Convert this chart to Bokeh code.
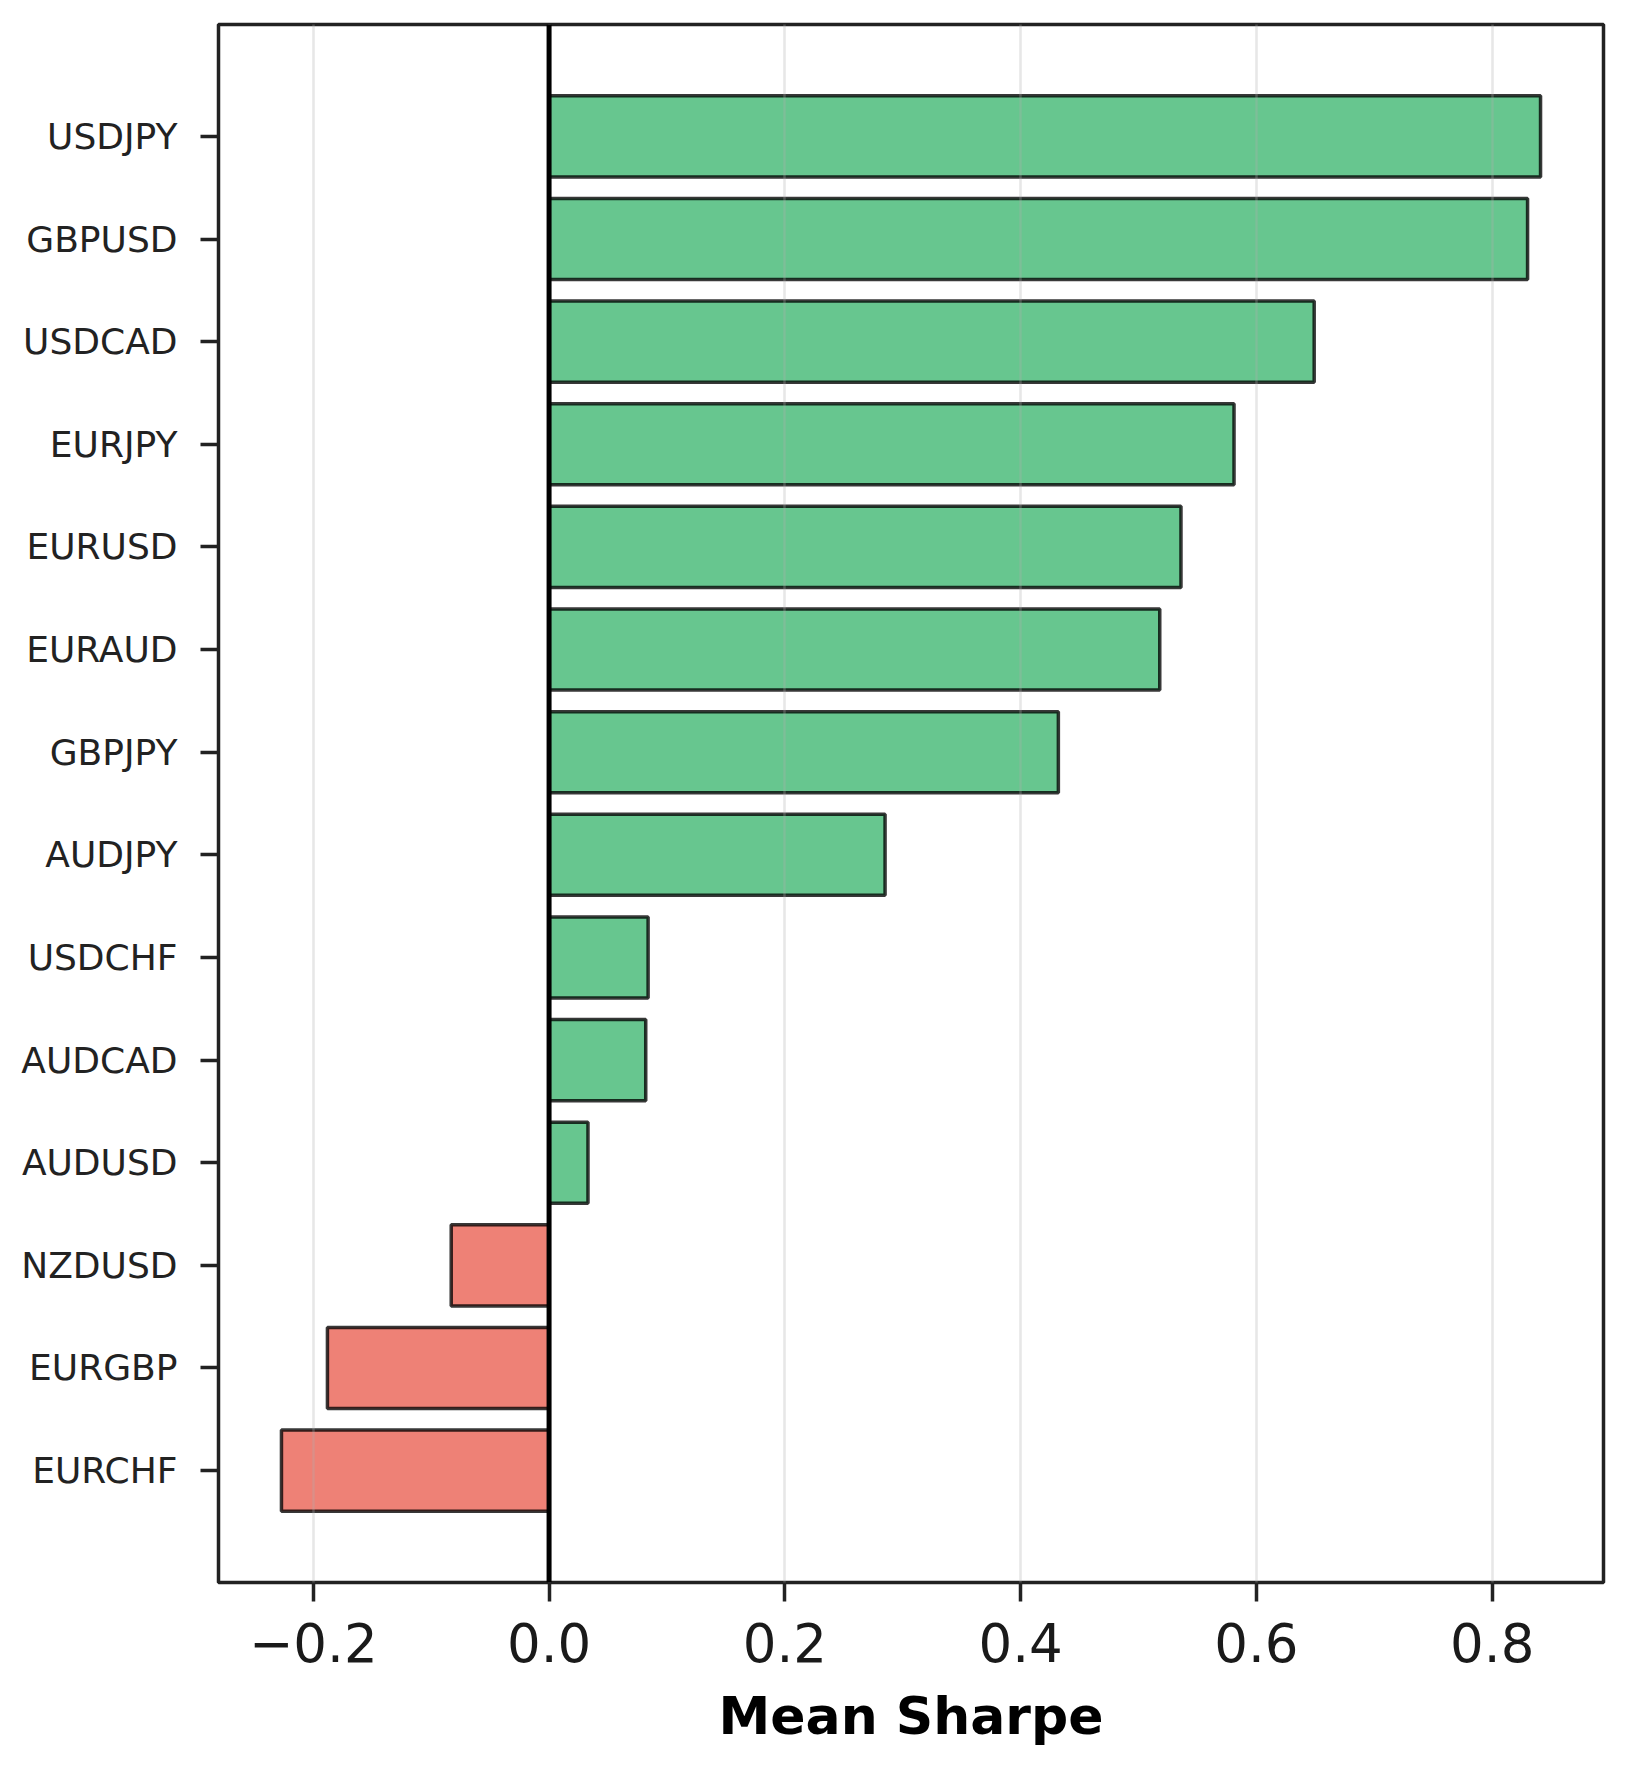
from bokeh.plotting import figure
from bokeh.models import ColumnDataSource, Range1d, FactorRange, Span, FixedTicker, CustomJSTickFormatter
from bokeh.embed import file_html
from bokeh.resources import INLINE

# ---- data ----
pairs = ["USDJPY", "GBPUSD", "USDCAD", "EURJPY", "EURUSD", "EURAUD", "GBPJPY",
         "AUDJPY", "USDCHF", "AUDCAD", "AUDUSD", "NZDUSD", "EURGBP", "EURCHF"]
mean_sharpe = [0.841, 0.830, 0.649, 0.581, 0.536, 0.518, 0.432,
               0.285, 0.084, 0.082, 0.033, -0.083, -0.188, -0.227]
x_ticks = [-0.2, 0.0, 0.2, 0.4, 0.6, 0.8]
x_label = "Mean Sharpe"

POS = "#27ae60"
NEG = "#e74c3c"
colors = [POS if v >= 0 else NEG for v in mean_sharpe]

src = ColumnDataSource(dict(pair=pairs, val=mean_sharpe, color=colors))

factors = list(reversed(pairs))  # EURCHF at bottom, USDJPY on top

p = figure(width=1611, height=1767,
           x_range=Range1d(-0.2804, 0.8944),
           y_range=FactorRange(factors=factors, range_padding=0.59, range_padding_units="absolute"),
           output_backend="svg", toolbar_location=None,
           min_border_left=218, min_border_right=8, min_border_top=24, min_border_bottom=185)

p.background_fill_color = "white"
p.border_fill_color = "white"
p.outline_line_color = "#222222"
p.outline_line_width = 3.5
p.outline_line_alpha = 1.0

p.hbar(y="pair", left=0, right="val", height=0.79, source=src,
       fill_color="color", fill_alpha=0.7,
       line_color="black", line_alpha=0.78, line_width=3.5)

p.add_layout(Span(location=0, dimension="height", line_color="black", line_width=5))

# grid: x only, drawn above bars like the reference
p.ygrid.visible = False
p.xgrid.grid_line_color = "#b0b0b0"
p.xgrid.grid_line_alpha = 0.3
p.xgrid.grid_line_width = 2.5
p.xgrid.level = "guide"

# x axis
p.xaxis.ticker = FixedTicker(ticks=x_ticks)
p.xaxis.formatter = CustomJSTickFormatter(code="""
    const s = Math.abs(tick).toFixed(1);
    return tick < -1e-9 ? "\u2212" + s : s;
""")
p.xaxis.minor_tick_line_color = None
p.xaxis.major_tick_out = 19
p.xaxis.major_tick_in = 0
p.xaxis.major_tick_line_width = 3.5
p.xaxis.major_tick_line_color = "#222222"
p.xaxis.axis_line_color = None
p.xaxis.major_label_text_font = "DejaVu Sans"
p.xaxis.major_label_text_font_size = "53px"
p.xaxis.major_label_text_color = "#1a1a1a"
p.xaxis.major_label_standoff = 21
p.xaxis.axis_label = x_label
p.xaxis.axis_label_text_font = "DejaVu Sans"
p.xaxis.axis_label_text_font_style = "bold"
p.xaxis.axis_label_text_font_size = "52px"
p.xaxis.axis_label_text_color = "black"
p.xaxis.axis_label_standoff = 21

# y axis
p.yaxis.major_tick_out = 18
p.yaxis.major_tick_in = 0
p.yaxis.major_tick_line_width = 3.5
p.yaxis.major_tick_line_color = "#222222"
p.yaxis.axis_line_color = None
p.yaxis.major_label_text_font = "DejaVu Sans"
p.yaxis.major_label_text_font_size = "36px"
p.yaxis.major_label_text_color = "#222222"
p.yaxis.major_label_standoff = 23

open("out.html", "w").write(file_html(p, INLINE))
